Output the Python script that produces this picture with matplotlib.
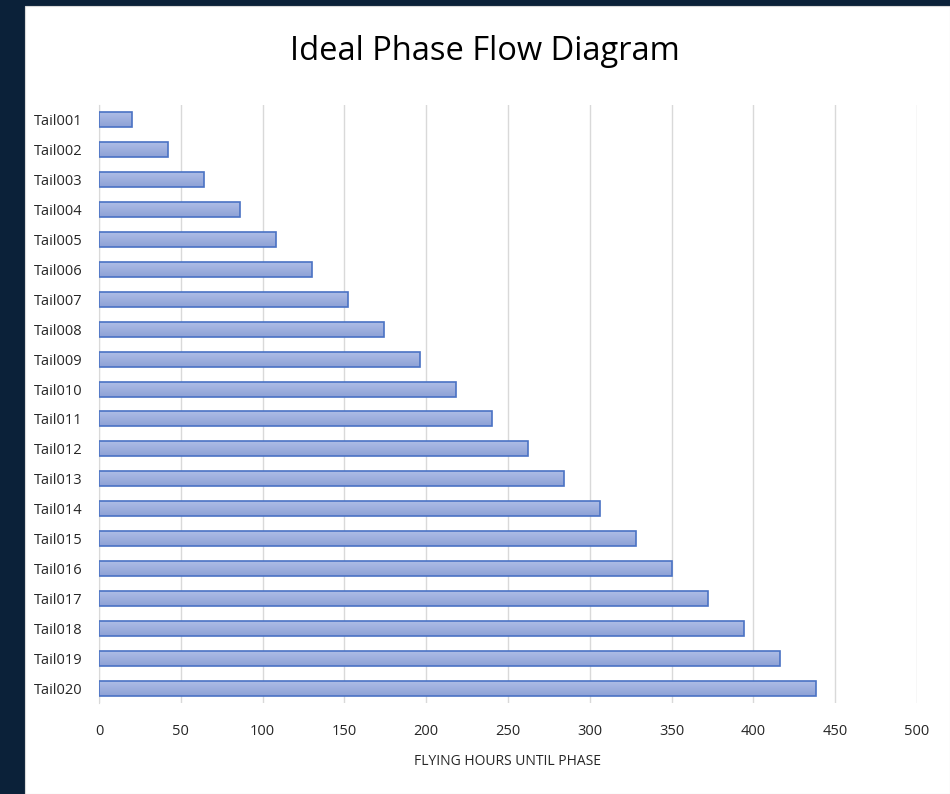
import matplotlib
matplotlib.use('Agg')
import matplotlib.pyplot as plt
import numpy as np
from matplotlib.patches import Rectangle

# ----------------------------- дані -----------------------------
tails = ['Tail001', 'Tail002', 'Tail003', 'Tail004', 'Tail005',
         'Tail006', 'Tail007', 'Tail008', 'Tail009', 'Tail010',
         'Tail011', 'Tail012', 'Tail013', 'Tail014', 'Tail015',
         'Tail016', 'Tail017', 'Tail018', 'Tail019', 'Tail020']
hours = [20, 42, 64, 86, 108, 130, 152, 174, 196, 218,
         240, 262, 284, 306, 328, 350, 372, 394, 416, 438]
x_ticks = [0, 50, 100, 150, 200, 250, 300, 350, 400, 450, 500]

plt.rcParams['font.family'] = ['Open Sans', 'DejaVu Sans']

W, H = 950, 794
fig = plt.figure(figsize=(W / 100, H / 100), dpi=100)
fig.patch.set_facecolor('#0b2139')

# біла панель
fig.add_artist(Rectangle((25 / W, 0), 1 - 25 / W, 1 - 6 / H,
                         transform=fig.transFigure, facecolor='white',
                         edgecolor='#d9d9d9', lw=0.8, zorder=0))

ax = fig.add_axes([99 / W, 1 - 703 / H, 818 / W, 598 / H])
ax.set_facecolor('none')

y = np.arange(len(tails))
bars = ax.barh(y, hours, height=0.5, color='#9eafdc',
               edgecolor='#4a72c4', linewidth=1.2, zorder=3)

# градієнт у стовпчиках
grad = np.linspace(0, 1, 64).reshape(-1, 1)
cmap = matplotlib.colors.LinearSegmentedColormap.from_list(
    'g', ['#aebde6', '#8da1d6'])
for b in bars:
    x0, y0 = b.get_x(), b.get_y()
    im = ax.imshow(grad, cmap=cmap, aspect='auto', zorder=3.5,
                   extent=[x0, x0 + b.get_width(), y0 + b.get_height(), y0])
    im.set_clip_path(b)
    b.set_facecolor('none')
    b.set_zorder(4)

ax.set_xlim(0, 500)
ax.set_ylim(len(tails) - 0.5, -0.5)
ax.set_xticks(x_ticks)
ax.set_yticks(y)
ax.set_yticklabels(tails)
ax.grid(axis='x', color='#d9d9d9', lw=1, zorder=0)
for s in ['top', 'right', 'bottom']:
    ax.spines[s].set_visible(False)
ax.spines['left'].set_color('#d9d9d9')
ax.tick_params(length=0, labelsize=10.5, colors='#262626')
ax.tick_params(axis='y', pad=12)
ax.tick_params(axis='x', pad=15)

ax.set_xlabel('FLYING HOURS UNTIL PHASE', fontsize=10, color='#262626',
              labelpad=11)
fig.text(485 / W, 1 - 51 / H, 'Ideal Phase Flow Diagram', fontsize=23.5,
         color='black', ha='center', va='center')

fig.savefig('out.png', dpi=100, facecolor=fig.get_facecolor())
